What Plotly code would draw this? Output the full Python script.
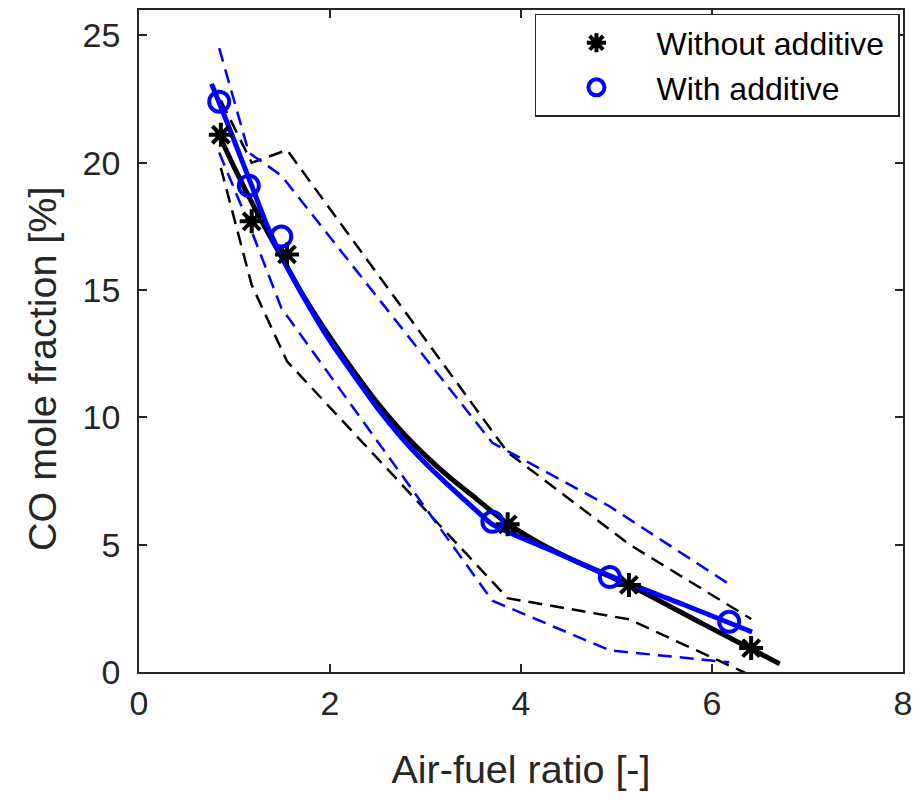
import plotly.graph_objects as go

# ---- measured points (air-fuel ratio [-], CO mole fraction [%]) ----
x_without = [0.857, 1.18, 1.55, 3.86, 5.13, 6.41]
y_without = [21.1, 17.7, 16.4, 5.8, 3.42, 0.94]
x_with = [0.84, 1.15, 1.49, 3.70, 4.93, 6.18]
y_with = [22.4, 19.1, 17.1, 5.9, 3.73, 1.97]

# ---- dashed bounds ----
y_without_upper = [22.45, 20.0, 20.5, 8.63, 5.02, 2.08]
y_without_lower = [19.8, 15.2, 12.2, 2.9, 2.07, -0.14]
y_with_upper = [24.5, 20.4, 19.5, 9.0, 6.5, 3.45]
y_with_lower = [20.4, 17.6, 14.3, 2.8, 0.85, 0.38]

# ---- fitted curves ----
fit_x_without = [0.82, 1.0, 1.25, 1.5, 1.75, 2.0, 2.25, 2.5, 2.75, 3.0, 3.25, 3.5, 3.84, 4.2, 4.6, 5.14, 5.9, 6.71]
fit_y_without = [21.25, 19.8, 17.95, 16.25, 14.6, 13.15, 11.8, 10.55, 9.45, 8.5, 7.65, 6.9, 5.88, 5.05, 4.3, 3.4, 1.9, 0.32]
fit_x_with = [0.76, 0.9, 1.03, 1.17, 1.34, 1.51, 1.72, 2.0, 2.25, 2.5, 2.75, 3.0, 3.25, 3.5, 3.70, 4.3, 4.93, 5.7, 6.42]
fit_y_with = [23.1, 21.8, 20.55, 19.2, 17.55, 16.2, 14.75, 13.0, 11.65, 10.35, 9.2, 8.2, 7.3, 6.45, 5.8, 4.8, 3.78, 2.65, 1.57]

# ---- axes / labels ----
x_ticks = [0, 2, 4, 6, 8]
y_ticks = [0, 5, 10, 15, 20, 25]
x_title = "Air-fuel ratio [-]"
y_title = "CO mole fraction [%]"
series_names = ["Without additive", "With additive"]

BLACK = "#000000"
BLUE = "#0000FF"
AX = "#262626"
FONT = "Liberation Sans, Arial, sans-serif"
DASH = "14px,8px"
NBSP = "\u00a0"

fig = go.Figure()

# dashed bounds
for yy in (y_without_upper, y_without_lower):
    fig.add_trace(go.Scatter(x=x_without, y=yy, mode="lines", showlegend=False,
                             line=dict(color=BLACK, width=2.5, dash=DASH), hoverinfo="skip"))
for yy in (y_with_upper, y_with_lower):
    fig.add_trace(go.Scatter(x=x_with, y=yy, mode="lines", showlegend=False,
                             line=dict(color=BLUE, width=2.5, dash=DASH), hoverinfo="skip"))

# fitted curves
fig.add_trace(go.Scatter(x=fit_x_without, y=fit_y_without, mode="lines", showlegend=False,
                         line=dict(color=BLACK, width=5, shape="spline", smoothing=0.6)))
fig.add_trace(go.Scatter(x=fit_x_with, y=fit_y_with, mode="lines", showlegend=False,
                         line=dict(color=BLUE, width=5, shape="spline", smoothing=0.6)))

# markers
fig.add_trace(go.Scatter(x=x_without, y=y_without, mode="markers", name=series_names[0] + NBSP,
                         marker=dict(symbol="asterisk-open", size=20, color=BLACK,
                                     line=dict(color=BLACK, width=4))))
fig.add_trace(go.Scatter(x=x_with, y=y_with, mode="markers", name=series_names[1],
                         marker=dict(symbol="circle-open", size=20, color=BLUE,
                                     line=dict(color=BLUE, width=4))))

axis_common = dict(showgrid=False, zeroline=False, showline=True, linecolor=AX, linewidth=1.5,
                   mirror="ticks", ticks="inside", ticklen=8, tickwidth=1.5, tickcolor=AX,
                   tickfont=dict(family=FONT, size=34, color=AX), automargin=False)

fig.update_xaxes(range=[0, 8], tickvals=x_ticks, ticktext=[str(v) for v in x_ticks],
                 title=dict(text=x_title, font=dict(family=FONT, size=39.5, color=AX),
                            standoff=35),
                 **axis_common)
fig.update_yaxes(range=[0, 26], tickvals=y_ticks, ticktext=[str(v) for v in y_ticks],
                 ticklabelstandoff=10, **axis_common)

# y-axis title as rotated text (positioned like the reference)
fig.add_annotation(text=y_title, textangle=-90, xref="paper", yref="paper",
                   x=0, xshift=-97, y=0.4577, xanchor="center", yanchor="middle",
                   showarrow=False, font=dict(family=FONT, size=39.5, color=AX))

fig.update_layout(
    width=913, height=806,
    margin=dict(l=139, r=10, t=10, b=134),
    plot_bgcolor="white", paper_bgcolor="white",
    font=dict(family=FONT, color=AX),
    legend=dict(x=0.996, y=0.994, xanchor="right", yanchor="top",
                bgcolor="white", bordercolor=AX, borderwidth=1.5,
                font=dict(family=FONT, size=32, color="#000000"),
                itemwidth=110, tracegroupgap=0),
)

fig.write_html("out.html",
               config={"displayModeBar": False},
               post_script="document.body.style.margin='0';document.body.style.overflow='hidden';")
